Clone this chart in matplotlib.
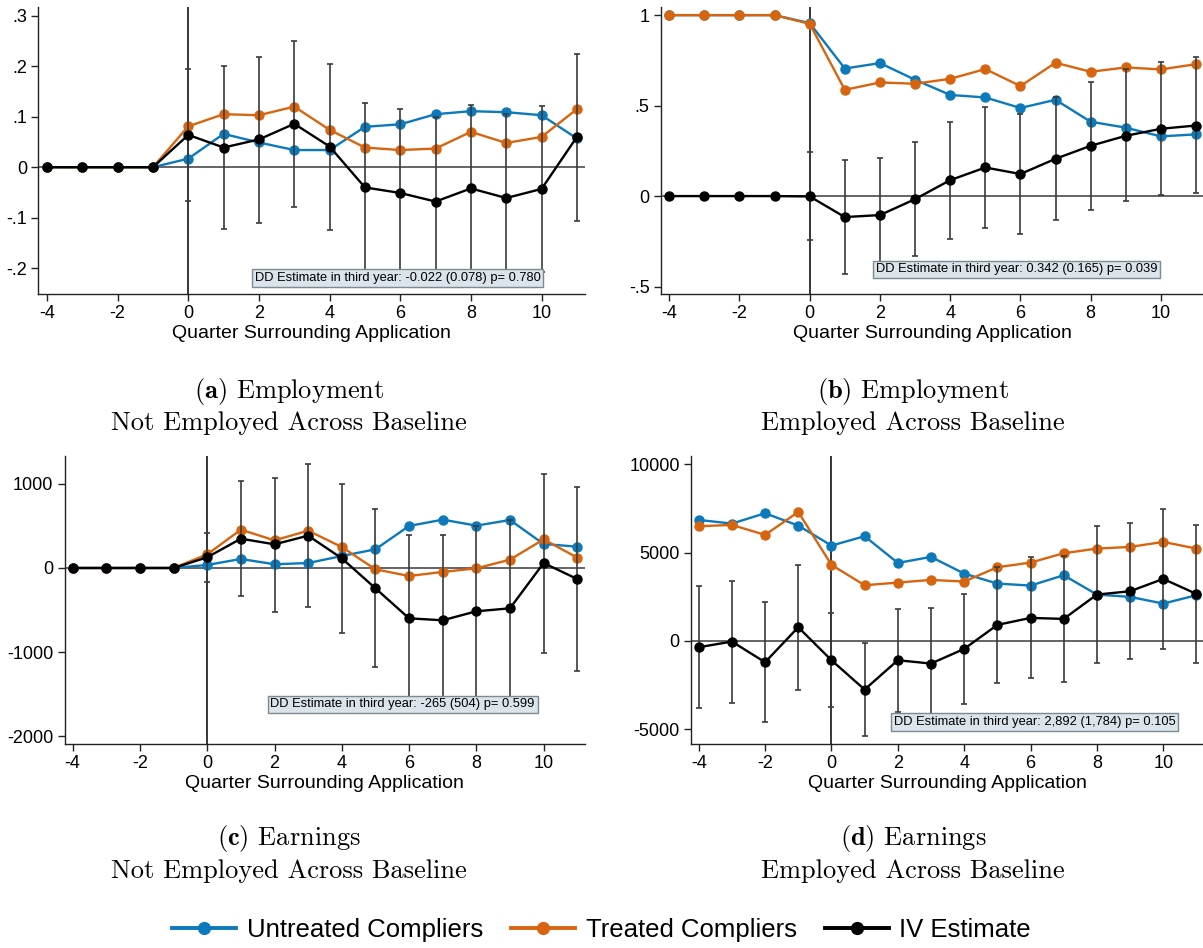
import numpy as np
import matplotlib
matplotlib.use("Agg")
import matplotlib.pyplot as plt
from matplotlib.lines import Line2D

"""
Complier means and IV estimates by quarter around application,
employment and earnings, split by baseline employment.
"""

plt.rcParams['font.family'] = ['Liberation Sans', 'DejaVu Sans']
plt.rcParams['mathtext.fontset'] = 'cm'

BLUE = '#0b79ba'
ORANGE = '#d7650f'
nan = np.nan

quarters = np.arange(-4, 12)
xticks = [-4, -2, 0, 2, 4, 6, 8, 10]

# (a) employment, not employed across baseline
a_untreated = [0, 0, 0, 0, 0.017, 0.066, 0.049, 0.034, 0.034, 0.080, 0.085, 0.105, 0.111, 0.109, 0.103, 0.057]
a_treated = [0, 0, 0, 0, 0.081, 0.105, 0.103, 0.120, 0.074, 0.039, 0.034, 0.037, 0.070, 0.048, 0.060, 0.115]
a_iv = [0, 0, 0, 0, 0.064, 0.039, 0.055, 0.086, 0.041, -0.040, -0.051, -0.068, -0.042, -0.061, -0.043, 0.060]
a_iv_hi = [nan, nan, nan, nan, 0.195, 0.200, 0.218, 0.250, 0.205, 0.127, 0.116, 0.099, 0.124, 0.105, 0.121, 0.225]
a_iv_lo = [nan, nan, nan, nan, -0.067, -0.122, -0.110, -0.079, -0.125, -0.207, -0.218, -0.235, -0.208, -0.227, -0.207, -0.107]

# (b) employment, employed across baseline
b_untreated = [1, 1, 1, 1, 0.956, 0.705, 0.735, 0.643, 0.559, 0.545, 0.487, 0.532, 0.411, 0.378, 0.330, 0.341]
b_treated = [1, 1, 1, 1, 0.952, 0.587, 0.628, 0.621, 0.648, 0.702, 0.608, 0.737, 0.687, 0.711, 0.700, 0.729]
b_iv = [0, 0, 0, 0, -0.002, -0.116, -0.105, -0.017, 0.088, 0.158, 0.122, 0.206, 0.278, 0.333, 0.372, 0.390]
b_iv_hi = [nan, nan, nan, nan, 0.243, 0.199, 0.210, 0.298, 0.411, 0.490, 0.453, 0.545, 0.630, 0.702, 0.740, 0.766]
b_iv_lo = [nan, nan, nan, nan, -0.243, -0.431, -0.420, -0.331, -0.236, -0.177, -0.210, -0.133, -0.075, -0.028, 0.004, 0.017]

# (c) earnings, not employed across baseline
c_untreated = [0, 0, 0, 0, 36, 107, 44, 59, 142, 222, 499, 574, 503, 570, 285, 253]
c_treated = [0, 0, 0, 0, 162, 455, 328, 443, 249, -16, -95, -47, -4, 99, 340, 123]
c_iv = [0, 0, 0, 0, 127, 348, 281, 384, 115, -241, -598, -621, -514, -479, 59, -131]
c_iv_hi = [nan, nan, nan, nan, 415, 1029, 1072, 1231, 996, 696, 392, 392, 500, 570, 1120, 958]
c_iv_lo = [nan, nan, nan, nan, -162, -336, -518, -463, -776, -1171, -1588, -1634, -1528, -1528, -1012, -1218]

# (d) earnings, employed across baseline
d_untreated = [6849, 6642, 7226, 6528, 5396, 5925, 4415, 4755, 3811, 3245, 3132, 3717, 2623, 2491, 2113, 2585]
d_treated = [6491, 6566, 6000, 7302, 4302, 3151, 3302, 3453, 3358, 4170, 4434, 4962, 5226, 5321, 5604, 5226]
d_iv = [-358, -38, -1208, 774, -1094, -2755, -1094, -1283, -453, 906, 1302, 1245, 2623, 2811, 3509, 2660]
d_iv_hi = [3113, 3415, 2189, 4283, 1566, -132, 1830, 1849, 2660, 4208, 4736, 4830, 6509, 6679, 7453, 6547]
d_iv_lo = [-3811, -3509, -4604, -2755, -3736, -5358, -4018, -4415, -3566, -2396, -2113, -2302, -1245, -1019, -434, -1245]

notes = [
    'DD Estimate in third year: -0.022 (0.078) p= 0.780',
    'DD Estimate in third year: 0.342 (0.165) p= 0.039',
    'DD Estimate in third year: -265 (504) p= 0.599',
    'DD Estimate in third year: 2,892 (1,784) p= 0.105',
]
captions = [
    (r'$\mathbf{(a)}$ Employment', 'Not Employed Across Baseline'),
    (r'$\mathbf{(b)}$ Employment', 'Employed Across Baseline'),
    (r'$\mathbf{(c)}$ Earnings', 'Not Employed Across Baseline'),
    (r'$\mathbf{(d)}$ Earnings', 'Employed Across Baseline'),
]


def draw_panel(ax, untreated, treated, iv, iv_lo, iv_hi, ylim, yticks, yticklabels, note, note_y):
    ax.axhline(0, color='#3a3a3a', lw=1.1, zorder=1)
    ax.axvline(0, color='black', lw=1.1, zorder=1)
    ax.plot(quarters, untreated, '-o', color=BLUE, lw=1.7, ms=6.5, zorder=2)
    ax.plot(quarters, treated, '-o', color=ORANGE, lw=1.7, ms=6.5, zorder=2.1)

    iv = np.asarray(iv, float)
    lo = np.asarray(iv_lo, float)
    hi = np.asarray(iv_hi, float)
    ok = ~np.isnan(lo)
    ax.errorbar(quarters[ok], iv[ok], yerr=[iv[ok] - lo[ok], hi[ok] - iv[ok]], fmt='none',
                ecolor='#3a3a3a', elinewidth=1.2, capsize=2.2, capthick=1.2, zorder=2.5)
    ax.plot(quarters, iv, '-o', color='black', lw=1.7, ms=6.5, zorder=3)

    ax.text(1.88, note_y, note, fontsize=9.3, ha='left', va='center', zorder=6,
            bbox=dict(boxstyle='square,pad=0.22', fc='#dae4ea', ec='#7d8a91', lw=1))

    ax.set_xlim(-4.24, 11.22)
    ax.set_ylim(*ylim)
    ax.set_xticks(xticks)
    ax.set_xticklabels([str(t) for t in xticks])
    ax.set_yticks(yticks)
    ax.set_yticklabels(yticklabels)
    for s in ['top', 'right']:
        ax.spines[s].set_visible(False)
    for s in ['left', 'bottom']:
        ax.spines[s].set_color('#222222')
        ax.spines[s].set_linewidth(1)
    ax.tick_params(direction='out', length=5, width=1, labelsize=13, color='#222222', pad=3)
    ax.set_xlabel('Quarter Surrounding Application', fontsize=14, labelpad=2)


fig = plt.figure(figsize=(12.03, 9.48), dpi=100)
ax_a = fig.add_axes([0.0320, 0.6899, 0.4540, 0.3031])
ax_b = fig.add_axes([0.5493, 0.6899, 0.4513, 0.3031])
ax_c = fig.add_axes([0.0537, 0.2152, 0.4323, 0.3038])
ax_d = fig.add_axes([0.5742, 0.2152, 0.4264, 0.3038])

draw_panel(ax_a, a_untreated, a_treated, a_iv, a_iv_lo, a_iv_hi, (-0.251, 0.318),
           [-0.2, -0.1, 0, 0.1, 0.2, 0.3], ['-.2', '-.1', '0', '.1', '.2', '.3'], notes[0], -0.2195)
draw_panel(ax_b, b_untreated, b_treated, b_iv, b_iv_lo, b_iv_hi, (-0.541, 1.047),
           [-0.5, 0, 0.5, 1], ['-.5', '0', '.5', '1'], notes[1], -0.405)
draw_panel(ax_c, c_untreated, c_treated, c_iv, c_iv_lo, c_iv_hi, (-2090, 1330),
           [-2000, -1000, 0, 1000], ['-2000', '-1000', '0', '1000'], notes[2], -1620)
draw_panel(ax_d, d_untreated, d_treated, d_iv, d_iv_lo, d_iv_hi, (-5836, 10468),
           [-5000, 0, 5000, 10000], ['-5000', '0', '5000', '10000'], notes[3], -4585)

cap_x = [0.240, 0.759, 0.240, 0.759]
cap_y = [(0.587, 0.554), (0.587, 0.554), (0.115, 0.081), (0.115, 0.081)]
for (line1, line2), x, (y1, y2) in zip(captions, cap_x, cap_y):
    fig.text(x, y1, line1, fontsize=19, family='cmr10', ha='center', va='center')
    fig.text(x, y2, line2, fontsize=19, family='cmr10', ha='center', va='center')

handles = [
    Line2D([], [], color=BLUE, lw=2.8, marker='o', ms=8.5),
    Line2D([], [], color=ORANGE, lw=2.8, marker='o', ms=8.5),
    Line2D([], [], color='black', lw=2.8, marker='o', ms=8.5),
]
fig.legend(handles, ['Untreated Compliers', 'Treated Compliers', 'IV Estimate'],
           loc='center', bbox_to_anchor=(0.5, 0.019), ncol=3, frameon=False,
           fontsize=18.5, handlelength=2.5, handletextpad=0.4, columnspacing=1.1)

fig.savefig('out.png', dpi=100)
